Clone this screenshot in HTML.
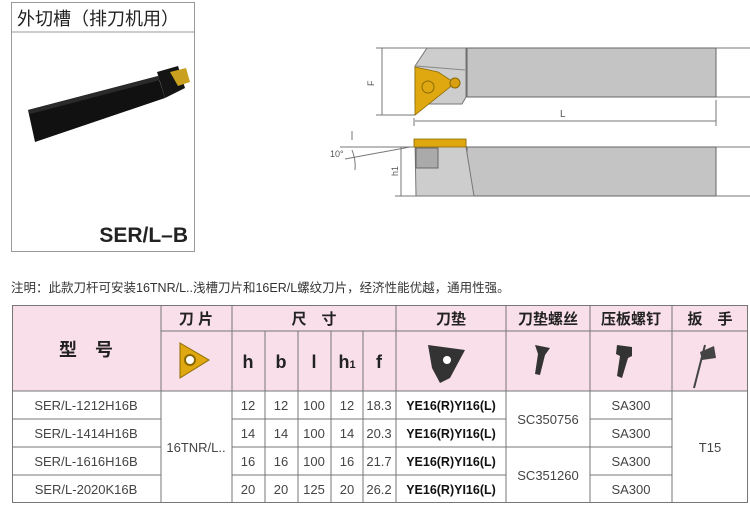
<!DOCTYPE html>
<html><head><meta charset="utf-8"><style>
body{margin:0;background:#fff;width:750px;height:507px;overflow:hidden}
svg text{font-family:"Liberation Sans","Noto Sans CJK SC",sans-serif}
</style></head><body>
<svg width="750" height="507" viewBox="0 0 750 507" xmlns="http://www.w3.org/2000/svg">
<rect x="11.5" y="2.5" width="183" height="249" fill="#fff" stroke="#999"/>
<line x1="11" y1="32" x2="195" y2="32" stroke="#999"/>
<text x="17" y="25" font-size="18" fill="#222">外切槽（排刀机用）</text>
<polygon points="28,110 158,76 165,98 35,142" fill="#111"/>
<polygon points="28,110 158,76 160,80 30,114" fill="#2a2a2a"/>
<polygon points="157,72 178,66 185,88 165,98" fill="#141414"/>
<polygon points="170,72 186,68 190,82 178,86" fill="#c9a020"/>
<text x="188" y="242" font-size="21" font-weight="bold" text-anchor="end" fill="#222">SER/L–B</text>

<g stroke="#777" stroke-width="1" fill="none">
<line x1="376" y1="48" x2="750" y2="48"/>
<line x1="716" y1="97" x2="750" y2="97"/>
<line x1="376" y1="115" x2="415" y2="115"/>
<line x1="382" y1="48" x2="382" y2="115"/>
<line x1="414" y1="118" x2="414" y2="126"/>
<line x1="716" y1="100" x2="716" y2="126"/>
<line x1="415" y1="121" x2="716" y2="121"/>
<line x1="340" y1="147" x2="750" y2="147"/>
<line x1="395" y1="196" x2="750" y2="196"/>
<line x1="401" y1="147" x2="401" y2="196"/>
<line x1="345" y1="159" x2="410" y2="147"/>
<path d="M352 131 L352 140 M352 150 Q356 160 355 170"/>
</g>
<text x="374" y="86" font-size="9" fill="#555" transform="rotate(-90 374 86)">F</text>
<text x="560" y="117" font-size="10" fill="#555">L</text>
<text x="330" y="157" font-size="9" fill="#555">10°</text>
<text x="398" y="176" font-size="9" fill="#555" transform="rotate(-90 398 176)">h1</text>
<rect x="467" y="48" width="249" height="49" fill="#c4c4c4" stroke="#666"/>
<polygon points="427,48 466,48 466,97 462,104 415,104 415,66" fill="#cdcdcd" stroke="#777"/>
<line x1="416" y1="66" x2="465" y2="70" stroke="#888"/>
<polygon points="415,67 415,115 455,83 438,72" fill="#e0a810" stroke="#8a6a00" stroke-width="0.8"/>
<circle cx="428" cy="87" r="6" fill="none" stroke="#8a6a00"/>
<circle cx="455" cy="83" r="5" fill="#d8a010" stroke="#8a6a00"/>
<rect x="467" y="147" width="249" height="49" fill="#c4c4c4" stroke="#666"/>
<polygon points="415,140 466,140 466,147 474,196 416,196" fill="#cdcdcd" stroke="#777"/>
<rect x="414" y="139" width="52" height="8" fill="#e0a810" stroke="#8a6a00" stroke-width="0.8"/>
<rect x="416" y="148" width="22" height="20" fill="#aaa" stroke="#666"/>

<text x="11" y="292" font-size="12.5" fill="#333">注明：此款刀杆可安装16TNR/L..浅槽刀片和16ER/L螺纹刀片，经济性能优越，通用性强。</text>

<rect x="12" y="305" width="736" height="86" fill="#f9dfe9"/>
<g stroke="#777" stroke-width="1">
<rect x="12.5" y="305.5" width="735" height="197" fill="none"/>
<line x1="161" y1="331" x2="748" y2="331"/>
<line x1="12" y1="391" x2="748" y2="391"/>
<line x1="161" y1="305" x2="161" y2="503"/>
<line x1="232" y1="305" x2="232" y2="503"/>
<line x1="265" y1="331" x2="265" y2="503"/>
<line x1="298" y1="331" x2="298" y2="503"/>
<line x1="331" y1="331" x2="331" y2="503"/>
<line x1="363" y1="331" x2="363" y2="503"/>
<line x1="396" y1="305" x2="396" y2="503"/>
<line x1="506" y1="305" x2="506" y2="503"/>
<line x1="590" y1="305" x2="590" y2="503"/>
<line x1="672" y1="305" x2="672" y2="503"/>
<line x1="12" y1="419" x2="161" y2="419"/><line x1="232" y1="419" x2="506" y2="419"/><line x1="590" y1="419" x2="672" y2="419"/>
<line x1="12" y1="447" x2="161" y2="447"/><line x1="232" y1="447" x2="672" y2="447"/>
<line x1="12" y1="475" x2="161" y2="475"/><line x1="232" y1="475" x2="506" y2="475"/><line x1="590" y1="475" x2="672" y2="475"/>
</g>
<g font-size="15" font-weight="bold" fill="#222" text-anchor="middle">
<text x="86" y="356" font-size="18">型　号</text>
<text x="196" y="324">刀 片</text>
<text x="314" y="324">尺　寸</text>
<text x="451" y="324">刀垫</text>
<text x="548" y="324">刀垫螺丝</text>
<text x="631" y="324">压板螺钉</text>
<text x="710" y="324">扳　手</text>
<text x="248" y="368" font-size="18">h</text>
<text x="281" y="368" font-size="18">b</text>
<text x="314" y="368" font-size="18">l</text>
<text x="347" y="368" font-size="18">h<tspan font-size="11">1</tspan></text>
<text x="379" y="368" font-size="18">f</text>
</g>
<polygon points="180,343 209,360 180,378" fill="#e0a810" stroke="#8a6a00"/>
<circle cx="190" cy="360" r="5" fill="#fff" stroke="#8a6a00" stroke-width="2"/>
<path d="M428,345 L465,350 L450,378 L440,383 L432,368 Z" fill="#333"/>
<circle cx="447" cy="360" r="4" fill="#fff"/>
<path d="M535,345 L550,348 L545,355 L540,375 L535,374 L538,354 Z" fill="#333"/>
<path d="M617,345 L632,347 L632,356 L628,358 L622,378 L617,376 L620,356 L616,354 Z" fill="#333"/>
<line x1="705" y1="345" x2="694" y2="388" stroke="#444" stroke-width="2"/>
<polygon points="700,352 714,346 716,358 702,360" fill="#444"/>
<g font-size="13" fill="#444" text-anchor="middle">
<text x="86" y="410">SER/L-1212H16B</text>
<text x="86" y="438">SER/L-1414H16B</text>
<text x="86" y="466">SER/L-1616H16B</text>
<text x="86" y="494">SER/L-2020K16B</text>
<text x="196" y="452">16TNR/L..</text>
<text x="248" y="410">12</text><text x="281" y="410">12</text><text x="314" y="410">100</text><text x="347" y="410">12</text><text x="379" y="410">18.3</text>
<text x="248" y="438">14</text><text x="281" y="438">14</text><text x="314" y="438">100</text><text x="347" y="438">14</text><text x="379" y="438">20.3</text>
<text x="248" y="466">16</text><text x="281" y="466">16</text><text x="314" y="466">100</text><text x="347" y="466">16</text><text x="379" y="466">21.7</text>
<text x="248" y="494">20</text><text x="281" y="494">20</text><text x="314" y="494">125</text><text x="347" y="494">20</text><text x="379" y="494">26.2</text>
<text x="548" y="424">SC350756</text>
<text x="548" y="480">SC351260</text>
<text x="631" y="410">SA300</text><text x="631" y="438">SA300</text><text x="631" y="466">SA300</text><text x="631" y="494">SA300</text>
<text x="710" y="452">T15</text>
</g>
<g font-size="12.5" font-weight="bold" fill="#111" text-anchor="middle">
<text x="451" y="410">YE16(R)YI16(L)</text>
<text x="451" y="438">YE16(R)YI16(L)</text>
<text x="451" y="466">YE16(R)YI16(L)</text>
<text x="451" y="494">YE16(R)YI16(L)</text>
</g>
</svg>
</body></html>
